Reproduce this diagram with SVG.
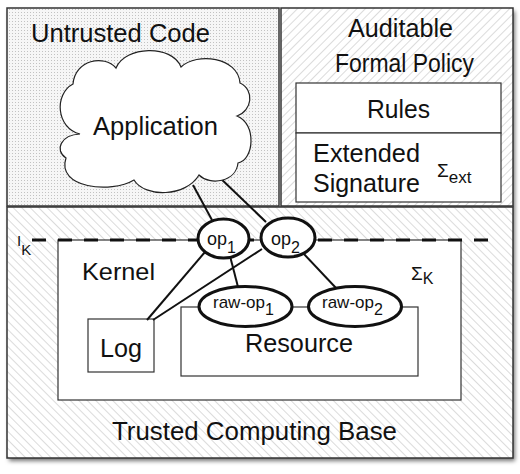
<svg xmlns="http://www.w3.org/2000/svg" width="520" height="474" viewBox="0 0 520 474">
<defs>
<pattern id="hatchR" patternUnits="userSpaceOnUse" width="6" height="6" patternTransform="rotate(45)">
<rect width="6" height="6" fill="#fff"/>
<line x1="0" y1="0" x2="0" y2="6" stroke="#bdbdbd" stroke-width="1.1"/>
</pattern>
<pattern id="hatchL" patternUnits="userSpaceOnUse" width="6" height="6" patternTransform="rotate(-45)">
<rect width="6" height="6" fill="#fff"/>
<line x1="0" y1="0" x2="0" y2="6" stroke="#bdbdbd" stroke-width="1.1"/>
</pattern>
<pattern id="dots" patternUnits="userSpaceOnUse" width="3" height="3">
<rect width="3" height="3" fill="#f6f6f6"/>
<rect width="1" height="1" fill="#c2c2c2"/>
</pattern>
<filter id="shadow" x="-5%" y="-5%" width="112%" height="112%">
<feDropShadow dx="2" dy="3" stdDeviation="2" flood-color="#000" flood-opacity="0.55"/>
</filter>
<style>
.t{font-family:"Liberation Sans",Arial,sans-serif;fill:#111}
.big{font-size:25.5px}
.mid{font-size:18px}
.region{stroke:#333;stroke-width:1.5}
.box{fill:#fff;stroke:#333;stroke-width:1.2}
.con{stroke:#111;stroke-width:2;fill:none}
.op{fill:#fff;stroke:#111;stroke-width:3}
</style>
</defs>

<rect x="7" y="8" width="506" height="450" fill="#fff" filter="url(#shadow)"/>

<g id="trusted-computing-base">
<rect class="region" x="7" y="207" width="506" height="251" fill="url(#hatchL)"/>
<text class="t big" x="112" y="440" textLength="285" lengthAdjust="spacingAndGlyphs">Trusted Computing Base</text>
</g>

<g id="untrusted-code">
<rect class="region" x="7" y="8" width="272" height="198" fill="url(#dots)"/>
<text class="t big" x="31" y="42" textLength="179" lengthAdjust="spacingAndGlyphs">Untrusted Code</text>
</g>

<g id="auditable-formal-policy">
<rect class="region" x="281" y="8" width="232" height="198" fill="url(#hatchR)"/>
<text class="t big" x="348" y="37" textLength="105" lengthAdjust="spacingAndGlyphs">Auditable</text>
<text class="t big" x="335" y="72" textLength="139" lengthAdjust="spacingAndGlyphs">Formal Policy</text>
</g>

<g id="rules">
<rect class="box" x="296" y="83" width="205" height="50"/>
<text class="t big" x="367" y="118" textLength="63" lengthAdjust="spacingAndGlyphs">Rules</text>
</g>

<g id="extended-signature">
<rect class="box" x="296" y="133" width="205" height="69"/>
<text class="t big" x="313" y="162" textLength="107" lengthAdjust="spacingAndGlyphs">Extended</text>
<text class="t big" x="313" y="192" textLength="107" lengthAdjust="spacingAndGlyphs">Signature</text>
<text class="t" x="437" y="177" font-size="19">Σ<tspan font-size="17" y="183">ext</tspan></text>
</g>

<g id="kernel">
<rect class="box" x="58" y="240" width="403" height="160" stroke="#555"/>
<text class="t" x="82" y="280" font-size="24" textLength="73" lengthAdjust="spacingAndGlyphs">Kernel</text>
<text class="t" x="411" y="280" font-size="19">Σ<tspan font-size="16" y="284">K</tspan></text>
</g>

<g id="log">
<rect class="box" x="88" y="319" width="66" height="53"/>
<text class="t big" x="100" y="357" textLength="42" lengthAdjust="spacingAndGlyphs">Log</text>
</g>

<g id="resource">
<rect class="box" x="181" y="307" width="237" height="69" stroke="#555"/>
<text class="t big" x="245" y="352" textLength="108" lengthAdjust="spacingAndGlyphs">Resource</text>
</g>

<g id="interface">
<line x1="32" y1="240" x2="500" y2="240" stroke="#111" stroke-width="3" stroke-dasharray="14 12"/>
<text class="t" x="17" y="246" font-size="15">I<tspan font-size="15" y="255">K</tspan></text>
</g>

<g id="connectors">
<line class="con" x1="193" y1="185" x2="212" y2="220"/>
<line class="con" x1="217" y1="175" x2="266" y2="222"/>
<line class="con" x1="205" y1="252" x2="147" y2="320"/>
<line class="con" x1="262" y1="249" x2="153" y2="320"/>
<line class="con" x1="230" y1="256" x2="238" y2="287"/>
<line class="con" x1="303" y1="253" x2="336" y2="288"/>
</g>

<g id="application">
<path d="M80 134 C56 128,54 94,73 84 C75 60,104 54,116 68 C125 46,172 44,181 67 C197 52,238 57,240 83 C255 90,252 111,237 116 C257 124,254 160,238 163 C236 182,210 186,199 175 C186 197,145 198,134 180 C111 194,56 188,66 158 C54 150,61 135,80 134 Z" fill="#fff" stroke="#222" stroke-width="1.2"/>
<text class="t big" x="93" y="135" textLength="125" lengthAdjust="spacingAndGlyphs">Application</text>
</g>

<g id="op1">
<ellipse class="op" cx="223.5" cy="238.5" rx="25.5" ry="19.5"/>
<text class="t mid" x="207" y="245">op<tspan font-size="16" y="253">1</tspan></text>
</g>

<g id="op2">
<ellipse class="op" cx="288" cy="237.5" rx="27" ry="19.5"/>
<text class="t mid" x="271" y="245">op<tspan font-size="16" y="253">2</tspan></text>
</g>

<g id="raw-op1">
<ellipse class="op" cx="245.5" cy="306.5" rx="46.5" ry="20"/>
<text class="t" x="213" y="308" font-size="17">raw-op<tspan font-size="16" y="315">1</tspan></text>
</g>

<g id="raw-op2">
<ellipse class="op" cx="355" cy="306.5" rx="46.5" ry="20"/>
<text class="t" x="322" y="308" font-size="17">raw-op<tspan font-size="16" y="315">2</tspan></text>
</g>
</svg>
